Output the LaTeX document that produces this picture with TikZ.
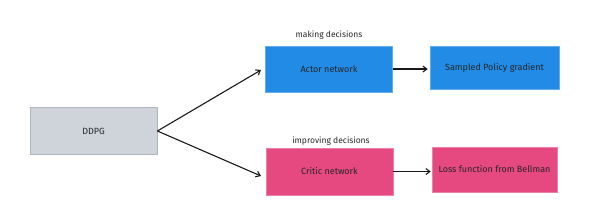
\documentclass[tikz,border=0pt]{standalone}
\usepackage{fontspec}
\setmainfont{Fira Sans}
\usetikzlibrary{arrows.meta}
\definecolor{exblue}{HTML}{228BE6}
\definecolor{expink}{HTML}{E64980}
\definecolor{exgray}{HTML}{CED4DA}
\definecolor{exgrayline}{HTML}{ADB5BD}
\tikzset{
  box/.style={rectangle, minimum width=#1, font=\fontsize{9}{10}\selectfont, text=black!85, inner sep=0pt},
  graybox/.style={box=127pt, minimum height=47pt, fill=exgray, draw=exgrayline, line width=0.8pt},
  bluebox/.style={box=127pt, fill=exblue, draw=exblue!70!white, line width=0.5pt},
  pinkbox/.style={box=127pt, fill=expink, draw=expink!70!white, line width=0.5pt},
  lbl/.style={font=\fontsize{8.5}{9}\selectfont, text=black!85},
  conn/.style={line width=1.1pt, black!90, -{Straight Barb[length=4pt,width=6pt]}}
}
\begin{document}
\begin{tikzpicture}[x=1pt,y=-1pt]
\useasboundingbox (0,0) rectangle (603,215);
\node[graybox] (ddpg) at (93.5,131) {DDPG};
\node[bluebox, minimum height=46pt] (actor) at (329,69) {Actor network};
\node[bluebox, minimum width=129pt, minimum height=43pt] (spg) at (494.5,67.5) {Sampled Policy gradient};
\node[pinkbox, minimum height=47pt] (critic) at (329.5,171.5) {Critic network};
\node[pinkbox, minimum width=125pt, minimum height=45pt] (loss) at (494.5,169.5) {Loss function from Bellman};
\node[lbl] (mk) at (329,35) {making decisions};
\node[lbl] (imp) at (331,141) {improving decisions};
\coordinate (ta) at (261,70);
\coordinate (tc) at (261,176);
\draw[conn] (ddpg.east) -- (ta);
\draw[conn] (ddpg.east) -- (tc);
\draw[conn] (actor.east) -- ([xshift=-2pt]spg.west |- actor.east);
\draw[conn] (critic.east) -- ([xshift=-1pt]loss.west |- critic.east);
\end{tikzpicture}
\end{document}
